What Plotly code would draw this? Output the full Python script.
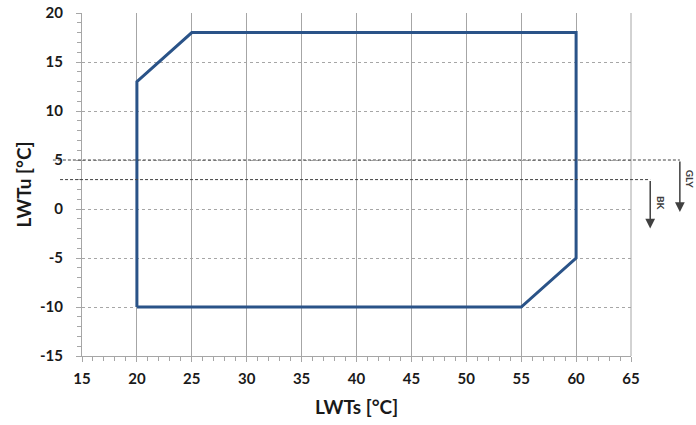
import plotly.graph_objects as go

# Operating envelope outline (LWTs vs LWTu), closed polygon
lwts = [20, 20, 25, 60, 60, 55, 20]
lwtu = [-10, 13, 18, 18, -5, -10, -10]

# Glycol / brine limits and their labels
limit_values = [5, 3]
limit_labels = ["GLY", "BK"]

x_ticks = [15, 20, 25, 30, 35, 40, 45, 50, 55, 60, 65]
y_ticks = [-15, -10, -5, 0, 5, 10, 15, 20]

FONT = "Lato"
LINE_BLUE = "#2a5388"
GRID = "#a6a6a6"
DARK = "#404040"
TEXT = "#1a1a1a"

fig = go.Figure()
fig.add_trace(go.Scatter(
    x=lwts, y=lwtu, mode="lines",
    line=dict(color=LINE_BLUE, width=3),
    hoverinfo="skip", showlegend=False,
))

# Dashed limit lines extending past the plot area, with down arrows
line_start = [-0.053, -0.040]
line_end = [1.089, 1.035]
arrow_len_px = [52, 49]
label_y = [3.0, 0.6]

for val, lab, x0, x1, alen, ly in zip(limit_values, limit_labels,
                                       line_start, line_end,
                                       arrow_len_px, label_y):
    fig.add_shape(type="line", xref="paper", yref="y",
                  x0=x0, x1=x1, y0=val, y1=val,
                  line=dict(color=DARK, width=1, dash="3px,2px"))
    fig.add_annotation(xref="paper", yref="y", x=x1, y=val, yshift=-alen,
                       ax=0, ay=-alen, text="",
                       showarrow=True, arrowhead=2, arrowsize=1.3,
                       arrowwidth=1.5, arrowcolor=DARK)
    fig.add_annotation(xref="paper", yref="y", x=x1, y=ly, xshift=11,
                       xanchor="center", yanchor="middle",
                       text=lab, showarrow=False, textangle=90,
                       font=dict(family=FONT, size=10, color=DARK,
                                 weight="bold"))

fig.update_xaxes(
    range=[15, 65], tickvals=x_ticks, ticktext=[str(v) for v in x_ticks],
    showgrid=True, gridcolor=GRID, gridwidth=1,
    showline=True, linecolor=GRID, linewidth=1, mirror=False,
    ticks="outside", ticklen=5, tickcolor=GRID,
    minor=dict(dtick=1, ticks="outside", ticklen=4, tickcolor=GRID,
               showgrid=False),
    zeroline=False, automargin=False, ticklabelstandoff=4,
    tickfont=dict(family=FONT, size=15, color=TEXT, weight="bold"),
    title=dict(text="LWTs [°C]", standoff=14,
               font=dict(family=FONT, size=19, color=TEXT,
                         weight="bold")),
)
fig.update_yaxes(
    range=[-15, 20], tickvals=y_ticks, ticktext=[str(v) for v in y_ticks],
    showgrid=True, gridcolor=GRID, gridwidth=1, griddash="dot",
    showline=True, linecolor=GRID, linewidth=1,
    ticks="outside", ticklen=5, tickcolor=GRID,
    minor=dict(dtick=1, ticks="outside", ticklen=4, tickcolor=GRID,
               showgrid=False),
    zeroline=False, automargin=False, ticklabelstandoff=10,
    tickfont=dict(family=FONT, size=15, color=TEXT, weight="bold"),
    title=dict(text="LWTu [°C]", standoff=3,
               font=dict(family=FONT, size=19, color=TEXT,
                         weight="bold")),
)

# Right border of the plot area as a solid grid-coloured line
fig.add_shape(type="line", xref="paper", yref="paper", x0=1, x1=1, y0=0,
              y1=1, line=dict(color=GRID, width=1), layer="below")

fig.update_layout(
    width=696, height=425,
    margin=dict(l=82, r=65, t=13, b=69),
    plot_bgcolor="white", paper_bgcolor="white",
)

fig.write_html("out.html")
